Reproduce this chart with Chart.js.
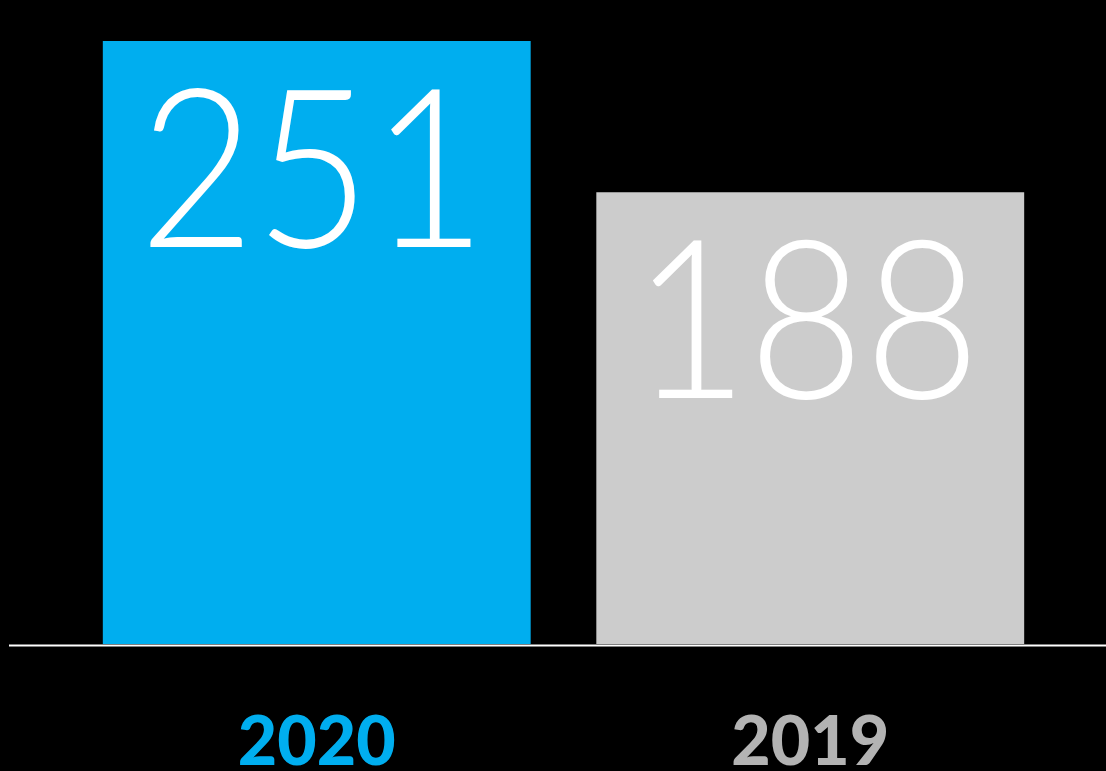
<!DOCTYPE html>
<html>
<head>
<meta charset="utf-8">
<script src="https://cdn.jsdelivr.net/npm/chart.js@4/dist/chart.umd.min.js"></script>
<style>
  html, body { margin: 0; padding: 0; background: #000; }
  #wrap { width: 1106px; height: 771px; }
</style>
</head>
<body>
<div id="wrap"><canvas id="yearChart"></canvas></div>
<script>
const years = ["2020", "2019"];
const totals = [251, 188];
const barColors = ["#00aeef", "#cccccc"];
const labelColors = ["#00aeef", "#b3b3b3"];

// big thin numbers inside the bars + year labels + baseline
const barText = {
  id: "barText",
  afterDatasetsDraw(chart) {
    const ctx = chart.ctx;
    const meta = chart.getDatasetMeta(0);
    const y = chart.scales.y;
    const x = chart.scales.x;
    const base = y.getPixelForValue(0);

    ctx.save();
    ctx.strokeStyle = "#ffffff";
    ctx.lineWidth = 2;
    ctx.beginPath();
    ctx.moveTo(9, base + 1.5);
    ctx.lineTo(chart.width, base + 1.5);
    ctx.stroke();

    ctx.fillStyle = "#ffffff";
    ctx.textAlign = "center";
    ctx.textBaseline = "alphabetic";
    ctx.font = "300 222px Lato";
    meta.data.forEach((bar, i) => {
      ctx.save();
      ctx.translate(bar.x - 4, bar.y + 206);
      ctx.scale(0.9, 1);
      ctx.fillText(String(totals[i]), 0, 0);
      ctx.restore();
    });

    ctx.font = "900 68px Lato";
    years.forEach((yr, i) => {
      ctx.fillStyle = labelColors[i];
      ctx.fillText(yr, x.getPixelForTick(i), 765);
    });
    ctx.restore();
  }
};

const ctx = document.getElementById("yearChart").getContext("2d");
const yearChart = new Chart(ctx, {
  type: "bar",
  data: {
    labels: years,
    datasets: [
      {
        data: totals,
        backgroundColor: barColors,
        barPercentage: 0.867,
        categoryPercentage: 1,
      },
    ],
  },
  options: {
    responsive: true,
    maintainAspectRatio: false,
    animation: false,
    layout: {
      padding: { left: 70, right: 49, top: 41, bottom: 127 },
    },
    scales: {
      x: { display: false },
      y: { display: false, beginAtZero: true, min: 0, max: 251 },
    },
    plugins: {
      legend: { display: false },
      tooltip: { enabled: false },
    },
  },
  plugins: [barText],
});
</script>
</body>
</html>
